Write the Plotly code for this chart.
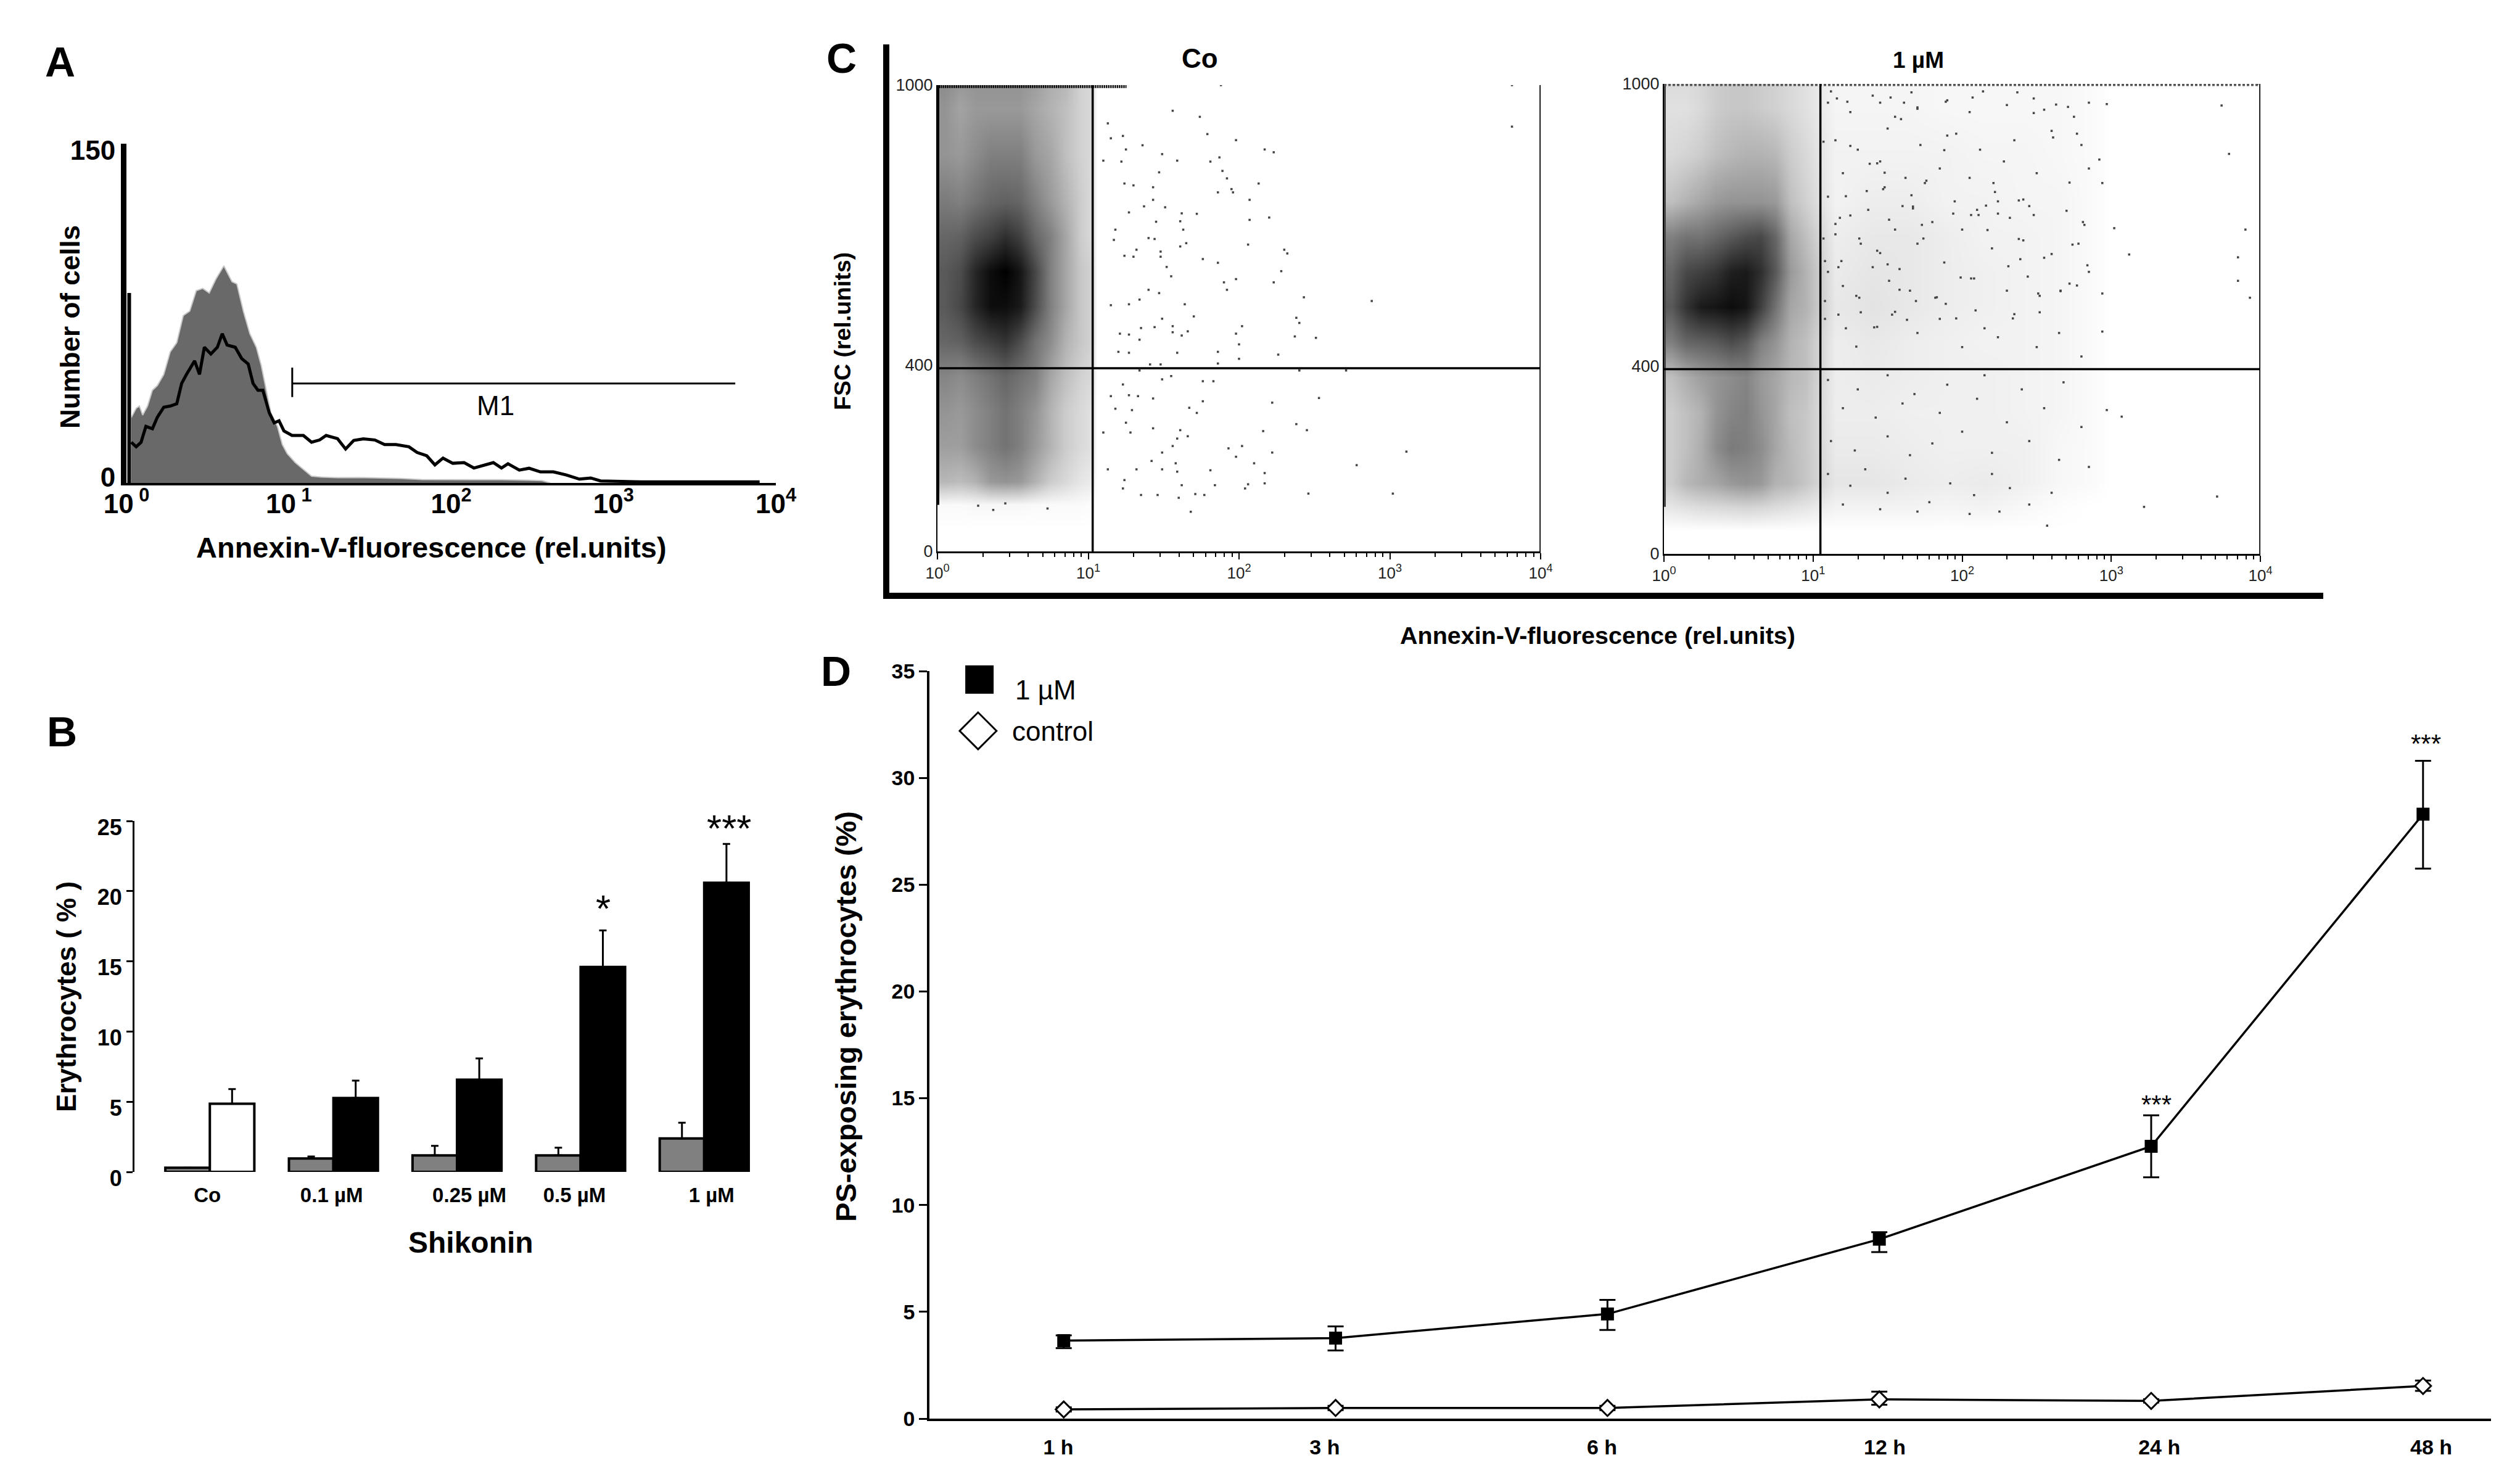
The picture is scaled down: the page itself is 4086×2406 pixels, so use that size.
import plotly.graph_objects as go

W, H = 4086, 2406
FONT = "Liberation Sans"

# ---------- Panel A: histogram ----------
gray_log = [.03,.06,.08,.10,.13,.16,.19,.23,.27,.31,.35,.39,.43,.47,.51,.55,.60,.65,.68,.72,.76,.80,.83,.86,.89,.93,.96,.99,1.04,1.09,1.14,1.20,1.30,1.43,1.56,1.69,1.82,1.98,2.14,2.31,2.47,2.56,2.61]
gray_cnt = [29,33,34,30,34,41,43,48,58,62,74,76,85,86,84,90,96,89,88,76,66,60,52,41,31,25,17,13,9,6,3,2.6,2.3,2.4,2.3,2,1.5,1.5,1.4,1.4,1.2,1,0]
black_log = [.03,.06,.09,.12,.16,.19,.23,.27,.31,.34,.37,.42,.45,.48,.52,.56,.59,.62,.67,.71,.75,.78,.81,.84,.88,.91,.94,.97,1.02,1.09,1.14,1.19,1.23,1.30,1.35,1.40,1.46,1.53,1.59,1.66,1.74,1.79,1.85,1.90,1.95,2.01,2.08,2.14,2.26,2.31,2.35,2.42,2.48,2.55,2.63,2.71,2.79,2.86,2.92,3.05,3.17,3.39,3.54,3.75,3.90]
black_cnt = [18,16,18,25,24,29,33.5,34,35,44,48,54,48,60,57,60,66,61,60,55,52.6,44,41,41,31,26.6,27.5,23,21,21,18,19,21,19.6,15,18.8,19.5,19,17,17,16,13.5,12,8,11,8.7,9,6.6,9,6.6,8.5,5.7,6.5,4.9,4.9,3.5,1.7,2.2,.9,.6,.5,.5,.5,.5,.5]
spike_x = [1.04, 1.04]
spike_y = [0, 84]
gate_x = [10.5, 10.5, 10.5, 5623]
gate_y = [38, 51, 44, 44]
a_ticks = [1, 10, 100, 1000, 10000]
a_ticktext = ["10<sup> 0</sup>", "10<sup> 1</sup>", "10<sup>2</sup>", "10<sup>3</sup>", "10<sup>4</sup>"]

# ---------- Panel B: bars ----------
b_categories = ["Co", "0.1 µM", "0.25 µM", "0.5 µM", "1 µM"]
b_groups = [0, 1, 2, 3, 4]
b_label_pos = [-0.02, 0.985, 2.1, 2.95, 4.06]
b_gray = [0.3, 0.96, 1.18, 1.18, 2.38]
b_gray_err = [0, 0.14, 0.68, 0.54, 1.12]
b_second = [4.85, 5.26, 6.57, 14.6, 20.6]
b_second_err = [1.05, 1.24, 1.51, 2.6, 2.76]
b_second_colors = ["white", "black", "black", "black", "black"]

# ---------- Panel C: dot plots, density ----------
fsc_rows = [1000, 950, 850, 750, 675, 600, 525, 450, 375, 300, 225, 150, 100, 50, 0]
co_cols = [.05,.15,.25,.35,.45,.55,.65,.75,.85,.95,1.02,1.06,1.2]
co_density = [
 [.45,.40,.42,.42,.42,.42,.38,.32,.28,.18,.15,0,0],
 [.42,.36,.40,.40,.40,.40,.35,.30,.25,.18,.15,0,0],
 [.42,.40,.45,.50,.50,.50,.40,.35,.25,.18,.15,0,0],
 [.52,.50,.55,.60,.62,.60,.50,.40,.30,.20,.15,0,0],
 [.60,.62,.70,.75,.82,.75,.60,.50,.35,.20,.15,0,0],
 [.65,.70,.85,.95,1.0,.92,.72,.50,.35,.22,.18,0,0],
 [.65,.72,.85,.95,.95,.90,.70,.50,.35,.22,.18,0,0],
 [.60,.62,.70,.75,.80,.70,.55,.45,.30,.22,.18,0,0],
 [.48,.45,.50,.55,.60,.55,.50,.35,.25,.18,.15,0,0],
 [.42,.40,.45,.50,.55,.50,.42,.30,.20,.15,.12,0,0],
 [.38,.38,.45,.50,.55,.50,.40,.30,.20,.15,.12,0,0],
 [.28,.26,.30,.40,.42,.40,.30,.20,.15,.10,.08,0,0],
 [.02,.02,.03,.03,.03,.03,.02,.02,.02,.02,.01,0,0],
 [0]*13,
 [0]*13,
]
co_dots_log = [1.56,1.74,1.13,3.81,3.81,1.88,1.23,1.15,1.79,1.98,1.36,1.25,2.17,2.23,1.49,1.59,1.81,1.87,1.10,1.22,1.47,1.89,1.92,2.13,1.24,1.30,1.43,1.95,1.86,1.96,2.07,1.43,1.37,1.51,1.27,1.72,1.62,2.20,2.07,1.61,1.45,1.18,1.63,1.40,1.44,1.17,1.65,1.61,2.06,2.30,2.32,1.32,1.48,1.24,1.30,1.76,1.48,1.86,1.52,2.28,1.55,1.98,1.90,2.23,1.40,1.92,1.47,2.43,2.88,1.64,1.27,1.15,1.34,1.49,1.70,2.38,2.40,1.56,1.35,1.44,2.02,1.98,1.66,1.56,1.21,1.27,2.37,2.51,1.62,2.00,1.34,1.86,1.59,1.20,2.26,1.27,2.00,1.86,1.41,1.48,2.40,2.71,1.34,1.49,1.55,1.76,1.83,1.23,1.15,1.27,1.33,1.43,1.76,2.22,2.53,1.67,1.72,1.29,1.18,1.25,2.38,1.10,1.28,1.43,2.45,2.16,1.61,1.59,1.66,1.56,1.93,2.02,2.22,1.98,1.49,3.11,1.42,1.58,2.10,2.78,1.81,1.32,2.17,1.59,1.49,1.13,2.17,2.06,1.84,1.62,1.24,1.23,1.35,1.46,1.71,1.60,1.77,2.46,3.02,1.68,2.04,.27,.37,.45,.73]
co_dots_fsc = [945,932,918,911,1000,1000,891,886,895,882,871,862,862,856,852,838,836,845,838,836,813,816,800,789,789,785,781,777,770,770,754,754,740,738,727,724,725,716,711,708,707,690,690,672,670,668,661,654,658,647,639,647,643,634,632,627,632,619,610,601,590,584,577,577,561,561,554,545,537,530,530,528,540,499,504,501,490,483,479,481,483,467,472,470,467,465,461,458,463,444,454,428,426,428,422,426,413,403,401,401,388,388,388,369,376,365,365,358,333,335,333,328,322,319,329,308,297,303,306,276,273,255,255,264,260,258,260,242,247,226,221,226,212,203,212,214,194,189,189,185,174,176,168,171,176,176,146,144,142,142,153,135,121,121,123,115,121,124,124,85,135,98,89,103,92]

um_cols = [.05,.15,.25,.35,.45,.55,.65,.75,.85,.95,1.15,1.4,1.65,1.9,2.15,2.4,2.65,2.85,3.0]
um_density = [
 [.14,.14,.16,.20,.22,.22,.20,.18,.15,.12,.04,.04,.04,.03,.03,.03,.03,.02,0],
 [.12,.12,.15,.20,.22,.22,.20,.18,.15,.12,.04,.04,.04,.03,.03,.03,.03,.02,0],
 [.15,.17,.20,.25,.28,.30,.30,.28,.20,.15,.05,.05,.05,.05,.04,.04,.03,.02,0],
 [.25,.30,.35,.40,.42,.42,.42,.40,.25,.18,.05,.07,.07,.05,.05,.04,.04,.02,0],
 [.50,.55,.55,.60,.65,.70,.72,.60,.35,.25,.07,.09,.09,.07,.05,.05,.04,.02,0],
 [.60,.72,.75,.80,.88,.90,.82,.65,.40,.30,.08,.10,.09,.07,.06,.05,.04,.02,0],
 [.65,.80,.90,.92,.95,.92,.75,.55,.35,.30,.09,.11,.09,.07,.06,.05,.04,.02,0],
 [.50,.60,.62,.65,.70,.65,.50,.42,.30,.25,.07,.09,.07,.06,.05,.05,.04,.02,0],
 [.25,.32,.38,.42,.45,.48,.40,.35,.28,.25,.07,.08,.07,.06,.06,.05,.04,.02,0],
 [.20,.25,.30,.42,.48,.50,.42,.35,.25,.22,.07,.07,.06,.06,.06,.05,.04,.02,0],
 [.20,.25,.32,.45,.52,.50,.45,.35,.27,.22,.08,.08,.07,.06,.06,.06,.03,.02,0],
 [.20,.28,.32,.35,.40,.42,.40,.30,.28,.22,.10,.10,.08,.07,.08,.06,.03,.02,0],
 [.10,.12,.14,.15,.16,.17,.16,.14,.12,.10,.05,.05,.05,.04,.05,.03,.01,0,0],
 [0]*19,
 [0]*19,
]
um_dots_log = [3.74,3.79,3.90,3.85,3.85,3.93,3.12,3.02,3.71,3.22,2.57,3.07,2.97,2.97,3.98,2.99,2.94,2.92,2.94,2.94,
 1.1,1.25,1.4,1.55,1.7,1.9,2.05,2.3,2.55,2.75,2.85,1.15,1.3,1.5,1.72,1.9,2.12,2.35,2.6,2.8,2.85,1.2,1.38,1.45,1.62,1.85,2.05,2.28,2.5,2.72,
 1.1,1.25,1.48,1.6,1.67,1.75,1.95,2.11,2.22,2.45,2.7,2.82,1.15,1.32,1.45,1.55,1.7,1.88,2.0,2.2,2.38,2.55,2.78,
 1.1,1.2,1.31,1.51,1.4,1.65,1.82,1.89,2.06,2.3,2.51,2.66,2.85,1.08,1.22,1.29,1.41,1.55,1.7,1.85,2.0,2.15,2.35,2.5,2.65,2.8,
 1.1,1.3,1.5,1.68,1.9,2.15,2.4,2.68,1.2,1.42,1.6,1.85,2.1,2.3,2.55,2.8,1.12,1.28,1.5,1.65,1.8,2.0,2.2,2.45,2.65,2.85,
 1.1,1.25,1.35,1.5,1.62,1.78,1.92,2.08,2.2,2.32,2.45,2.6,1.2,1.45,1.7,2.05,2.25,
 1.43,1.48,1.76,1.67,2.06,2.10,2.21,2.38,2.48,1.70,1.59,1.52,1.96,1.88,1.25,1.07,1.37,1.51,1.43,1.31,1.17,1.32,1.43,1.58,1.69,1.83,2.09,2.24,2.34,2.52,2.66,2.77,2.72,2.41,2.60,2.81,2.48,2.24,2.16,2.41,1.99,2.08,2.44,2.32,2.17,1.94,1.73,1.80,1.74,1.58,1.50,1.66,1.47,1.36,1.22,1.15,1.18,1.07,1.08,1.19,1.29,1.08,1.17,1.53,1.63,1.96,2.52,2.39,2.31,2.24,2.74,2.84,2.61,2.77,2.37,2.48,2.63,2.71,2.14,2.07,1.89,1.66,1.61,1.45,1.23,1.16,1.12]
um_dots_fsc = [954,851,690,631,581,545,637,693,122,100,60,292,306,957,1000,1000,789,839,554,473,
 960,940,975,930,950,965,940,955,945,930,960,880,860,905,870,890,860,880,900,870,820,810,830,835,800,820,800,835,810,790,
 760,720,780,740,735,789,750,721,770,740,730,700,680,660,640,690,660,620,690,650,670,630,660,
 600,570,545,581,610,560,545,532,586,560,554,559,600,500,480,441,482,515,470,500,440,480,510,440,470,420,
 370,350,380,340,360,380,350,365,310,290,320,300,330,280,310,270,240,220,250,210,235,260,215,240,200,185,
 170,145,180,130,160,110,150,125,170,140,105,130,105,95,90,85,90,
 831,811,794,739,721,732,789,752,938,947,925,971,894,859,868,877,732,711,645,671,610,514,483,562,538,546,518,461,501,514,560,571,575,667,638,706,721,750,741,754,588,586,590,715,689,724,700,706,671,606,616,763,776,772,761,702,715,671,623,623,549,538,509,509,498,501,549,627,612,724,658,614,886,894,982,969,956,951,984,971,962,982,960,960,962,969,984]

co_gate_vx, co_gate_hy = 10.7, 393
um_gate_vx, um_gate_hy = 11.2, 393
c_ticks = [1, 10, 100, 1000, 10000]
c_ticktext = ["10<sup>0</sup>", "10<sup>1</sup>", "10<sup>2</sup>", "10<sup>3</sup>", "10<sup>4</sup>"]
c_minor = [m * d for d in (1, 10, 100, 1000) for m in (2, 3, 4, 5, 6, 7, 8, 9)]

# ---------- Panel D: time course ----------
d_times = ["1 h", "3 h", "6 h", "12 h", "24 h", "48 h"]
d_index = [0, 1, 2, 3, 4, 5]
d_label_pos = [-0.02, 0.96, 1.98, 3.02, 4.03, 5.03]
d_um = [3.65, 3.77, 4.9, 8.4, 12.75, 28.3]
d_um_up = [0.25, 0.55, 0.66, 0.33, 1.45, 2.5]
d_um_down = [0.35, 0.58, 0.75, 0.6, 1.45, 2.55]
d_ctrl = [0.43, 0.5, 0.5, 0.9, 0.83, 1.53]
d_ctrl_up = [0.1, 0.1, 0.1, 0.36, 0.08, 0.25]
d_ctrl_down = [0.1, 0.1, 0.1, 0.25, 0.08, 0.23]


def dom_x(a, b):
    return [a / W, b / W]


def dom_y(top, bottom):
    return [1 - bottom / H, 1 - top / H]


fig = go.Figure()

# Panel A traces
fig.add_trace(go.Scatter(x=[10 ** v for v in gray_log], y=gray_cnt, mode="lines", line=dict(color="#c8c8c8", width=2),
                         fill="tozeroy", fillcolor="#696969", xaxis="x", yaxis="y", showlegend=False, name="control"))
fig.add_trace(go.Scatter(x=spike_x, y=spike_y, mode="lines", line=dict(color="black", width=6), xaxis="x", yaxis="y", showlegend=False))
fig.add_trace(go.Scatter(x=[10 ** v for v in black_log], y=black_cnt, mode="lines", line=dict(color="black", width=5),
                         xaxis="x", yaxis="y", showlegend=False, name="1 µM"))
fig.add_trace(go.Scatter(x=gate_x, y=gate_y, mode="lines", line=dict(color="black", width=3), xaxis="x", yaxis="y", showlegend=False))

# Panel B traces
fig.add_trace(go.Bar(x=b_groups, y=b_gray, marker=dict(color="#808080", line=dict(color="black", width=4)),
                     error_y=dict(type="data", array=b_gray_err, arrayminus=[0] * 5, color="black", thickness=3, width=6),
                     xaxis="x2", yaxis="y2", showlegend=False))
fig.add_trace(go.Bar(x=b_groups, y=b_second, marker=dict(color=b_second_colors, line=dict(color="black", width=4)),
                     error_y=dict(type="data", array=b_second_err, arrayminus=[0] * 5, color="black", thickness=3, width=6),
                     xaxis="x2", yaxis="y2", showlegend=False))

# Panel C traces
gray_scale = [[0, "white"], [1, "black"]]
fig.add_trace(go.Heatmap(x=[10 ** v for v in co_cols], y=fsc_rows, z=co_density, colorscale=gray_scale, zmin=0, zmax=1,
                         zsmooth="best", showscale=False, xaxis="x3", yaxis="y3"))
fig.add_trace(go.Scatter(x=[10 ** v for v in co_dots_log], y=co_dots_fsc, mode="markers",
                         marker=dict(symbol="square", size=3.5, color="#444444"), xaxis="x3", yaxis="y3", showlegend=False))
fig.add_trace(go.Scatter(x=[1, 10, 18], y=[997, 997, 997], mode="lines", line=dict(color="black", width=5, dash="2px,1px"),
                         xaxis="x3", yaxis="y3", showlegend=False))
fig.add_trace(go.Scatter(x=[1, 1], y=[100, 1000], mode="lines", line=dict(color="black", width=6), xaxis="x3", yaxis="y3", showlegend=False))
fig.add_trace(go.Scatter(x=[co_gate_vx, co_gate_vx, None, 1, 10000, None, 10000, 10000],
                         y=[0, 1000, None, co_gate_hy, co_gate_hy, None, 0, 1000], mode="lines",
                         line=dict(color="black", width=3.5), xaxis="x3", yaxis="y3", showlegend=False))

fig.add_trace(go.Heatmap(x=[10 ** v for v in um_cols], y=fsc_rows, z=um_density, colorscale=gray_scale, zmin=0, zmax=1,
                         zsmooth="best", showscale=False, xaxis="x4", yaxis="y4"))
fig.add_trace(go.Scatter(x=[10 ** v for v in um_dots_log], y=um_dots_fsc, mode="markers",
                         marker=dict(symbol="square", size=3.5, color="#444444"), xaxis="x4", yaxis="y4", showlegend=False))
fig.add_trace(go.Scatter(x=[1, 1], y=[100, 1000], mode="lines", line=dict(color="#444444", width=6), xaxis="x4", yaxis="y4", showlegend=False))
fig.add_trace(go.Scatter(x=[1, 10000], y=[998, 998], mode="lines", line=dict(color="#555555", width=4, dash="4px,3px"), xaxis="x4", yaxis="y4", showlegend=False))
fig.add_trace(go.Scatter(x=[um_gate_vx, um_gate_vx, None, 1, 10000, None, 10000, 10000],
                         y=[0, 1000, None, um_gate_hy, um_gate_hy, None, 0, 1000], mode="lines",
                         line=dict(color="black", width=3.5), xaxis="x4", yaxis="y4", showlegend=False))

# Panel D traces
fig.add_trace(go.Scatter(x=d_index, y=d_um, mode="lines+markers", line=dict(color="black", width=3.5),
                         marker=dict(symbol="square", size=21, color="black"),
                         error_y=dict(type="data", array=d_um_up, arrayminus=d_um_down, color="black", thickness=3, width=13),
                         xaxis="x5", yaxis="y5", showlegend=False, name="1 µM"))
fig.add_trace(go.Scatter(x=d_index, y=d_ctrl, mode="lines+markers", line=dict(color="black", width=3.5),
                         marker=dict(symbol="diamond", size=20, color="white", line=dict(color="black", width=3)),
                         error_y=dict(type="data", array=d_ctrl_up, arrayminus=d_ctrl_down, color="black", thickness=3, width=13),
                         xaxis="x5", yaxis="y5", showlegend=False, name="control"))
fig.add_trace(go.Scatter(x=[-0.31], y=[34.6], mode="markers", marker=dict(symbol="square", size=46, color="black"),
                         xaxis="x5", yaxis="y5", showlegend=False, cliponaxis=False))
fig.add_trace(go.Scatter(x=[-0.315], y=[32.2], mode="markers", marker=dict(symbol="diamond", size=46, color="white", line=dict(color="black", width=3)),
                         xaxis="x5", yaxis="y5", showlegend=False, cliponaxis=False))


def ann(px, py, text, size, bold=False, angle=0, color="black", anchor="center"):
    fig.add_annotation(x=px / W, y=1 - py / H, xref="paper", yref="paper", text=f"<b>{text}</b>" if bold else text,
                       showarrow=False, textangle=angle, xanchor=anchor, yanchor="middle",
                       font=dict(family=FONT, size=size, color=color))


ann(97, 100, "A", 68, True)
ann(100, 1186, "B", 68, True)
ann(1364, 94, "C", 68, True)
ann(1355, 1088, "D", 68, True)

ann(699, 887, "Annexin-V-fluorescence (rel.units)", 47, True)
ann(113, 530, "Number of cells", 44, True, -90)
ann(803, 657, "M1", 44)

ann(107, 1616, "Erythrocytes ( % )", 44, True, -90)
ann(763, 2014, "Shikonin", 48, True)
fig.add_annotation(x=3.18, y=18.8, xref="x2", yref="y2", text="*", showarrow=False, font=dict(family=FONT, size=62, color="black"))
fig.add_annotation(x=4.2, y=24.5, xref="x2", yref="y2", text="***", showarrow=False, font=dict(family=FONT, size=62, color="black"))

ann(1945, 94, "Co", 44, True)
ann(3110, 98, "1 µM", 37, True)
ann(1366, 537, "FSC (rel.units)", 37.5, True, -90)
ann(2590, 1030, "Annexin-V-fluorescence (rel.units)", 39.5, True)

ann(1371, 1648, "PS-exposing erythrocytes (%)", 47, True, -90)
ann(1644, 1118, "1 µM", 44, anchor="left")
ann(1639, 1185, "control", 44, anchor="left")
fig.add_annotation(x=4.02, y=14.7, xref="x5", yref="y5", text="***", showarrow=False, font=dict(family=FONT, size=42, color="black"))
fig.add_annotation(x=5.01, y=31.6, xref="x5", yref="y5", text="***", showarrow=False, font=dict(family=FONT, size=42, color="black"))

# Panel C outer frame
frame = dict(type="line", xref="paper", yref="paper", line=dict(color="black", width=10))
fig.add_shape(x0=1437 / W, x1=1437 / W, y0=1 - 72 / H, y1=1 - 971 / H, **frame)
fig.add_shape(x0=1432 / W, x1=3767 / W, y0=1 - 966 / H, y1=1 - 966 / H, **frame)

bold_font = dict(family=FONT, color="black", weight="bold")
c_x = dict(type="log", range=[0, 4], tickmode="array", tickvals=c_ticks, ticktext=c_ticktext, showgrid=False, zeroline=False, automargin=False,
           showline=True, linecolor="black", linewidth=3, ticks="outside", ticklen=10, tickwidth=2, tickcolor="black",
           tickfont=dict(family=FONT, size=26, color="#222222"),
           minor=dict(tickmode="array", tickvals=c_minor, ticks="outside", ticklen=6, tickwidth=2, tickcolor="black", showgrid=False))
c_y = dict(range=[0, 1000], tickmode="array", tickvals=[0, 400, 1000], showgrid=False, zeroline=False, showline=True, automargin=False,
           linecolor="black", linewidth=2, ticks="", tickfont=dict(family=FONT, size=27, color="#222222"))

fig.update_layout(
    width=W, height=H, margin=dict(l=0, r=0, t=0, b=0), paper_bgcolor="white", plot_bgcolor="rgba(0,0,0,0)",
    barmode="group", bargap=0.28, bargroupgap=0,
    xaxis=dict(domain=dom_x(205, 1258), type="log", range=[0, 4], tickmode="array", tickvals=a_ticks, ticktext=a_ticktext, showgrid=False, automargin=False,
               zeroline=False, showline=True, linecolor="black", linewidth=4, ticks="", anchor="y", ticklabelstandoff=-8,
               tickfont=dict(size=44, **bold_font)),
    yaxis=dict(domain=dom_y(233, 783), range=[0, 150], tickmode="array", tickvals=[2.5, 147], ticktext=["0", "150"], showgrid=False, automargin=False,
               zeroline=False, showline=True, linecolor="black", linewidth=9, ticks="", anchor="x",
               tickfont=dict(size=44, **bold_font)),
    xaxis2=dict(domain=dom_x(218, 1232), range=[-0.61, 4.45], tickmode="array", tickvals=b_label_pos, ticktext=b_categories, automargin=False,
                showgrid=False, zeroline=False, showline=False, ticks="", anchor="y2", ticklabelstandoff=15,
                tickfont=dict(size=33, **bold_font)),
    yaxis2=dict(domain=dom_y(1331, 1900), range=[0, 25], tickmode="array", tickvals=[0, 5, 10, 15, 20, 25], showgrid=False, automargin=False,
                zeroline=False, showline=True, linecolor="black", linewidth=3, ticks="outside", ticklen=10, tickwidth=3, tickcolor="black",
                anchor="x2", ticklabelshift=10, tickfont=dict(size=36, **bold_font)),
    xaxis3=dict(domain=dom_x(1520, 2498), anchor="y3", **c_x),
    yaxis3=dict(domain=dom_y(138, 894), anchor="x3", **c_y),
    xaxis4=dict(domain=dom_x(2698, 3665), anchor="y4", **c_x),
    yaxis4=dict(domain=dom_y(136, 898), anchor="x4", **c_y),
    xaxis5=dict(domain=dom_x(1507, 4039), range=[-0.494, 5.25], tickmode="array", tickvals=d_label_pos, ticktext=d_times, showgrid=False, automargin=False,
                zeroline=False, showline=True, linecolor="black", linewidth=3.5, ticks="", anchor="y5",
                tickfont=dict(size=34, **bold_font), ticklabelstandoff=13),
    yaxis5=dict(domain=dom_y(1088, 2300), range=[0, 35], tickmode="array", tickvals=[0, 5, 10, 15, 20, 25, 30, 35], showgrid=False, automargin=False,
                zeroline=False, showline=True, linecolor="black", linewidth=3.5, ticks="outside", ticklen=13, tickwidth=3, tickcolor="black",
                anchor="x5", tickfont=dict(size=34, **bold_font)),
)

fig.write_html("out.html", config={"displayModeBar": False}, post_script="document.body.style.margin='0';")
